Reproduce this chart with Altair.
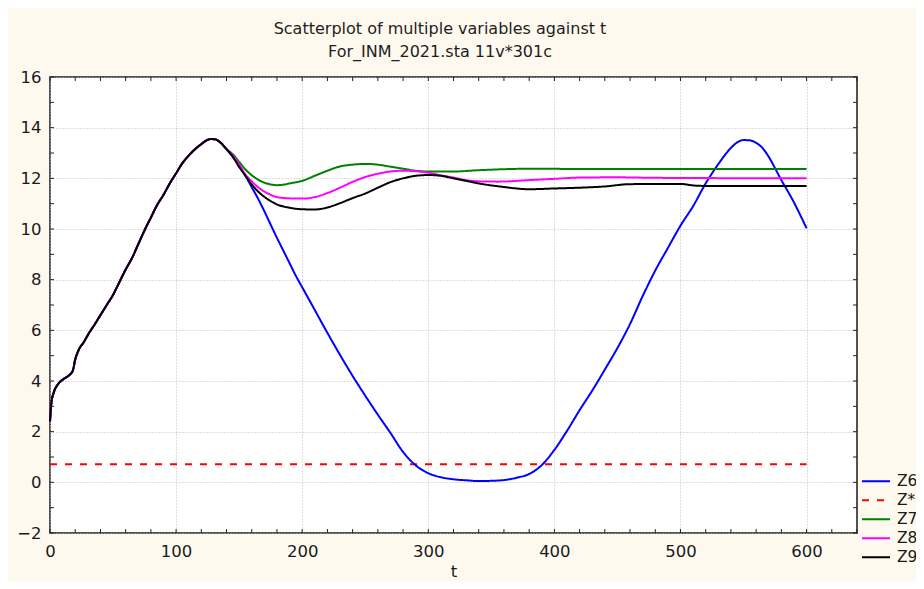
import altair as alt
import pandas as pd

# ---------------- data ----------------
SERIES = ["Z6", "Z*", "Z7", "Z8", "Z9"]
COLORS = ["#0000ff", "#ff0000", "#008000", "#ff00ff", "#000000"]
DASHES = [[1, 0], [7, 8], [1, 0], [1, 0], [1, 0]]

# common rising part (identical for Z6..Z9)
T_COMMON = [0, 1, 3, 6, 10, 15, 18, 20, 23, 27, 31, 35, 40, 45, 50, 55, 60, 65, 70,
            75, 80, 85, 90, 95, 100, 105, 110, 115, 120, 125, 128, 131, 135, 140]
Y_COMMON = [2.4, 3.1, 3.55, 3.85, 4.05, 4.22, 4.4, 4.85, 5.25, 5.55, 5.9, 6.2, 6.6,
            7.0, 7.4, 7.9, 8.4, 8.85, 9.4, 9.95, 10.45, 10.95, 11.35, 11.8, 12.2,
            12.6, 12.9, 13.15, 13.35, 13.52, 13.55, 13.54, 13.42, 13.15]

T_Z6 = [145, 150, 155, 160, 165, 170, 175, 180, 185, 190, 195, 200, 210, 220, 230,
        240, 250, 260, 270, 280, 290, 300, 310, 320, 330, 340, 350, 360, 370, 380,
        390, 400, 410, 420, 430, 440, 450, 460, 470, 480, 490, 500, 510, 520, 530,
        540, 545, 550, 555, 560, 565, 570, 575, 580, 585, 590, 595, 600]
Y_Z6 = [12.85, 12.5, 12.1, 11.65, 11.2, 10.7, 10.17, 9.65, 9.15, 8.65, 8.15, 7.7,
        6.8, 5.9, 5.03, 4.2, 3.42, 2.67, 1.95, 1.2, 0.67, 0.36, 0.2, 0.12, 0.08, 0.05,
        0.06, 0.09, 0.18, 0.33, 0.68, 1.28, 2.03, 2.85, 3.62, 4.45, 5.3, 6.25, 7.35,
        8.36, 9.25, 10.13, 10.9, 11.8, 12.56, 13.2, 13.42, 13.51, 13.5, 13.4, 13.2,
        12.85, 12.4, 11.93, 11.5, 11.05, 10.55, 10.03]

T_ZSTAR = [0, 600]
Y_ZSTAR = [0.71, 0.71]

T_Z7 = [145, 150, 155, 160, 165, 170, 175, 180, 185, 190, 200, 210, 220, 230, 240,
        250, 260, 270, 280, 290, 300, 320, 340, 360, 380, 420, 600]
Y_Z7 = [12.95, 12.65, 12.35, 12.12, 11.95, 11.83, 11.76, 11.73, 11.75, 11.8, 11.9,
        12.1, 12.3, 12.47, 12.54, 12.57, 12.54, 12.46, 12.38, 12.3, 12.27, 12.27,
        12.32, 12.36, 12.38, 12.37, 12.37]

T_Z8 = [145, 150, 155, 160, 165, 170, 175, 180, 190, 200, 210, 220, 230, 240, 250,
        260, 270, 280, 290, 300, 310, 320, 330, 340, 355, 380, 400, 420, 450, 480, 600]
Y_Z8 = [12.9, 12.55, 12.15, 11.88, 11.65, 11.48, 11.35, 11.26, 11.21, 11.2, 11.26,
        11.42, 11.63, 11.86, 12.05, 12.18, 12.27, 12.3, 12.28, 12.22, 12.12, 12.03,
        11.93, 11.88, 11.87, 11.93, 11.98, 12.03, 12.04, 12.02, 12.0]

T_Z9 = [145, 150, 155, 160, 165, 170, 175, 180, 190, 200, 210, 220, 230, 240, 250,
        260, 270, 280, 290, 300, 310, 320, 330, 340, 350, 360, 370, 380, 400, 420,
        440, 460, 500, 510, 520, 600]
Y_Z9 = [12.85, 12.45, 12.1, 11.76, 11.48, 11.27, 11.1, 10.97, 10.84, 10.78, 10.77,
        10.85, 11.02, 11.22, 11.4, 11.63, 11.85, 12.0, 12.1, 12.13, 12.1, 12.0, 11.9,
        11.8, 11.72, 11.66, 11.6, 11.57, 11.6, 11.63, 11.68, 11.77, 11.78, 11.72,
        11.7, 11.7]

X_TICK_LABELS = [0, 100, 200, 300, 400, 500, 600]
Y_TICK_LABELS = [-2, 0, 2, 4, 6, 8, 10, 12, 14, 16]
X_MINOR = list(range(0, 641, 20))
Y_MINOR = list(range(-2, 17, 1))

TITLE = ["Scatterplot of multiple variables against t", "For_INM_2021.sta 11v*301c"]

# ---------------- build table ----------------
rows = []
def add(name, ts, ys):
    for t, y in zip(ts, ys):
        rows.append({"t": t, "y": y, "series": name})

add("Z*", T_ZSTAR, Y_ZSTAR)
for nm, ts, ys in [("Z6", T_Z6, Y_Z6), ("Z7", T_Z7, Y_Z7), ("Z8", T_Z8, Y_Z8), ("Z9", T_Z9, Y_Z9)]:
    add(nm, T_COMMON + ts, Y_COMMON + ys)
df = pd.DataFrame(rows)

W, H = 807, 456
FONT = "DejaVu Sans"
TXT = "#1a1a1a"
xscale = alt.Scale(domain=[0, 640], nice=False, zero=False)
yscale = alt.Scale(domain=[-2, 16], nice=False, zero=False)

legend = alt.Legend(orient="none", legendX=811, legendY=396, symbolType="stroke",
                    symbolSize=784, symbolStrokeWidth=2, labelFontSize=15.5,
                    labelFont=FONT, labelColor=TXT, labelOffset=6,
                    rowPadding=2, clipHeight=16.7, padding=0)

xaxis = alt.Axis(values=X_TICK_LABELS, grid=True, gridColor="#bdbdbd", gridDash=[1, 2],
                 gridWidth=1, ticks=False, tickSize=0, domain=False, labelFontSize=16.5,
                 labelFont=FONT, labelColor=TXT, labelPadding=10, labelFlush=False,
                 labelOverlap=False, title="t", titleFont=FONT, titleFontSize=16.5,
                 titleFontWeight="normal", titleColor=TXT, titleY=43,
                 titleBaseline="alphabetic")
yaxis = alt.Axis(values=Y_TICK_LABELS, grid=True, gridColor="#bdbdbd", gridDash=[1, 2],
                 gridWidth=1, ticks=False, tickSize=0, domain=False, labelFontSize=16.5,
                 labelFont=FONT, labelColor=TXT, labelPadding=9, labelFlush=False,
                 labelOverlap=False, title="")

base = alt.Chart(df).mark_line(strokeWidth=2, interpolate="monotone").encode(
    x=alt.X("t:Q", scale=xscale, axis=xaxis),
    y=alt.Y("y:Q", scale=yscale, axis=yaxis),
    color=alt.Color("series:N", scale=alt.Scale(domain=SERIES, range=COLORS),
                    legend=legend, title=""),
    strokeDash=alt.StrokeDash("series:N", scale=alt.Scale(domain=SERIES, range=DASHES),
                              legend=legend, title=""),
)

layers = [base.transform_filter(alt.datum.series == nm) for nm in ["Z*", "Z6", "Z7", "Z8", "Z9"]]

xt = pd.DataFrame({"t": X_MINOR})
yt = pd.DataFrame({"y": Y_MINOR})
tick_col = "#222222"
xb = alt.Chart(xt).mark_rule(color=tick_col, strokeWidth=1).encode(
    x=alt.X("t:Q", scale=xscale), y=alt.value(H), y2=alt.value(H - 4))
xtop = alt.Chart(xt).mark_rule(color=tick_col, strokeWidth=1).encode(
    x=alt.X("t:Q", scale=xscale), y=alt.value(0), y2=alt.value(4))
yl = alt.Chart(yt).mark_rule(color=tick_col, strokeWidth=1).encode(
    y=alt.Y("y:Q", scale=yscale), x=alt.value(0), x2=alt.value(4))
yr = alt.Chart(yt).mark_rule(color=tick_col, strokeWidth=1).encode(
    y=alt.Y("y:Q", scale=yscale), x=alt.value(W - 4), x2=alt.value(W))

chart = alt.layer(*layers, xb, xtop, yl, yr).properties(
    width=W, height=H,
    title=alt.TitleParams(text=TITLE, font=FONT, fontSize=16, fontWeight="normal",
                          color="#1e1e1e", anchor="middle", dx=-13.5, lineHeight=23,
                          baseline="top", offset=9),
    autosize=alt.AutoSizeParams(type="none"),
    padding={"left": 42, "top": 69, "right": 59, "bottom": 48},
    background="#fef9ee",
).configure_view(stroke="#1a1a1a", strokeWidth=1.5, fill="white")

chart.save("out.html", embed_options={"renderer": "svg", "actions": False})
